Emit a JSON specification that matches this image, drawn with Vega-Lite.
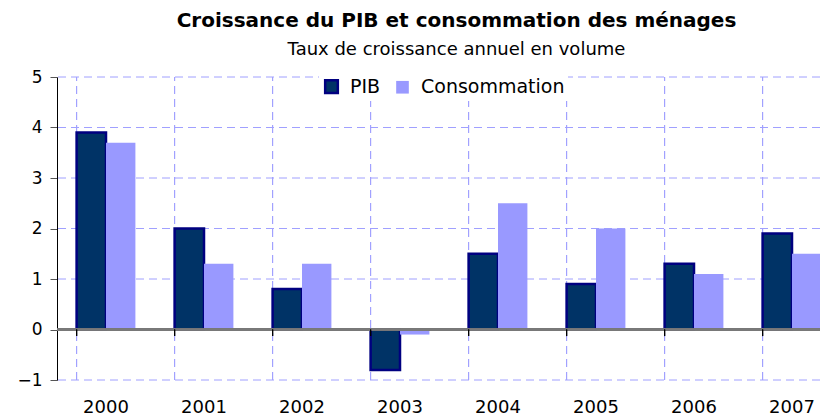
{
  "$schema": "https://vega.github.io/schema/vega-lite/v6.json",
  "autosize": "none",
  "width": 763,
  "height": 303,
  "padding": {"left": 57, "top": 77, "right": 0, "bottom": 37},
  "background": "white",
  "title": {
    "text": "Croissance du PIB et consommation des ménages",
    "subtitle": "Taux de croissance annuel en volume",
    "anchor": "middle",
    "frame": "group",
    "font": "DejaVu Sans",
    "fontSize": 20,
    "fontWeight": "bold",
    "color": "black",
    "subtitleFont": "DejaVu Sans",
    "subtitleFontSize": 18,
    "subtitleColor": "black",
    "subtitlePadding": 10,
    "offset": 9,
    "dx": 18
  },
  "config": {
    "view": {"stroke": null},
    "font": "DejaVu Sans",
    "axis": {
      "grid": false,
      "labelColor": "black",
      "title": null
    },
    "axisX": {
      "labelAngle": 0,
      "domain": false,
      "ticks": false,
      "labelFontSize": 18,
      "labelPadding": 18
    },
    "axisY": {
      "domainColor": "black",
      "domainWidth": 1,
      "tickColor": "#555555",
      "tickSize": 7,
      "labelFontSize": 17,
      "labelPadding": 8
    }
  },
  "datasets": {
    "croissance": [
      {"annee": "2000", "serie": "PIB", "valeur": 3.9},
      {"annee": "2000", "serie": "Consommation", "valeur": 3.7},
      {"annee": "2001", "serie": "PIB", "valeur": 2.0},
      {"annee": "2001", "serie": "Consommation", "valeur": 1.3},
      {"annee": "2002", "serie": "PIB", "valeur": 0.8},
      {"annee": "2002", "serie": "Consommation", "valeur": 1.3},
      {"annee": "2003", "serie": "PIB", "valeur": -0.8},
      {"annee": "2003", "serie": "Consommation", "valeur": -0.1},
      {"annee": "2004", "serie": "PIB", "valeur": 1.5},
      {"annee": "2004", "serie": "Consommation", "valeur": 2.5},
      {"annee": "2005", "serie": "PIB", "valeur": 0.9},
      {"annee": "2005", "serie": "Consommation", "valeur": 2.0},
      {"annee": "2006", "serie": "PIB", "valeur": 1.3},
      {"annee": "2006", "serie": "Consommation", "valeur": 1.1},
      {"annee": "2007", "serie": "PIB", "valeur": 1.9},
      {"annee": "2007", "serie": "Consommation", "valeur": 1.5}
    ],
    "graduations": [
      {"v": -1}, {"v": 0}, {"v": 1}, {"v": 2}, {"v": 3}, {"v": 4}, {"v": 5}
    ]
  },
  "data": {"name": "croissance"},
  "layer": [
    {
      "data": {"name": "graduations"},
      "mark": {"type": "rule", "color": "#A0A0FF", "strokeWidth": 1, "strokeDash": [8, 5]},
      "encoding": {
        "y": {"field": "v", "type": "quantitative"}
      }
    },
    {
      "mark": {"type": "rule", "color": "#A0A0FF", "strokeWidth": 1, "strokeDash": [8, 5]},
      "encoding": {
        "x": {"field": "annee", "type": "nominal", "bandPosition": 0},
        "y": {"datum": -1, "type": "quantitative"},
        "y2": {"datum": 5}
      }
    },
    {
      "mark": {"type": "bar"},
      "encoding": {
        "x": {
          "field": "annee",
          "type": "nominal",
          "scale": {"range": [0, 784], "paddingInner": 0.4, "paddingOuter": 0.2}
        },
        "xOffset": {"field": "serie", "type": "nominal", "scale": {"domain": ["PIB", "Consommation"], "paddingInner": 0, "paddingOuter": 0}},
        "y": {
          "field": "valeur",
          "type": "quantitative",
          "scale": {"domain": [-1, 5], "nice": false, "zero": false},
          "axis": {"values": [-1, 0, 1, 2, 3, 4, 5], "format": "d"}
        },
        "fill": {
          "field": "serie",
          "type": "nominal",
          "scale": {"domain": ["PIB", "Consommation"], "range": ["#003366", "#9999FF"]},
          "legend": {
            "title": null,
            "orient": "none",
            "legendX": 262,
            "legendY": -3,
            "direction": "horizontal",
            "fillColor": "white",
            "padding": 3,
            "symbolType": "square",
            "symbolSize": 160,
            "symbolStrokeWidth": 2,
            "labelFontSize": 19,
            "labelColor": "black",
            "labelOffset": 9,
            "columnPadding": 12
          }
        },
        "stroke": {
          "field": "serie",
          "type": "nominal",
          "scale": {"domain": ["PIB", "Consommation"], "range": ["#000080", "#9999FF"]},
          "legend": {
            "title": null,
            "orient": "none",
            "legendX": 262,
            "legendY": -3,
            "direction": "horizontal",
            "fillColor": "white",
            "padding": 3,
            "symbolType": "square",
            "symbolSize": 160,
            "symbolStrokeWidth": 2,
            "labelFontSize": 19,
            "labelColor": "black",
            "labelOffset": 9,
            "columnPadding": 12
          }
        },
        "strokeWidth": {
          "field": "serie",
          "type": "nominal",
          "scale": {"domain": ["PIB", "Consommation"], "range": [2.5, 0]},
          "legend": null
        }
      }
    },
    {
      "mark": {"type": "rule", "color": "#7A7A7A", "strokeWidth": 1.5},
      "encoding": {
        "y": {"datum": 0, "type": "quantitative"}
      }
    },
    {
      "mark": {"type": "rule", "color": "#000000", "strokeWidth": 1.2},
      "encoding": {
        "x": {"field": "annee", "type": "nominal", "bandPosition": 0},
        "y": {"datum": 0, "type": "quantitative"},
        "y2": {"datum": -0.13}
      }
    }
  ]
}
